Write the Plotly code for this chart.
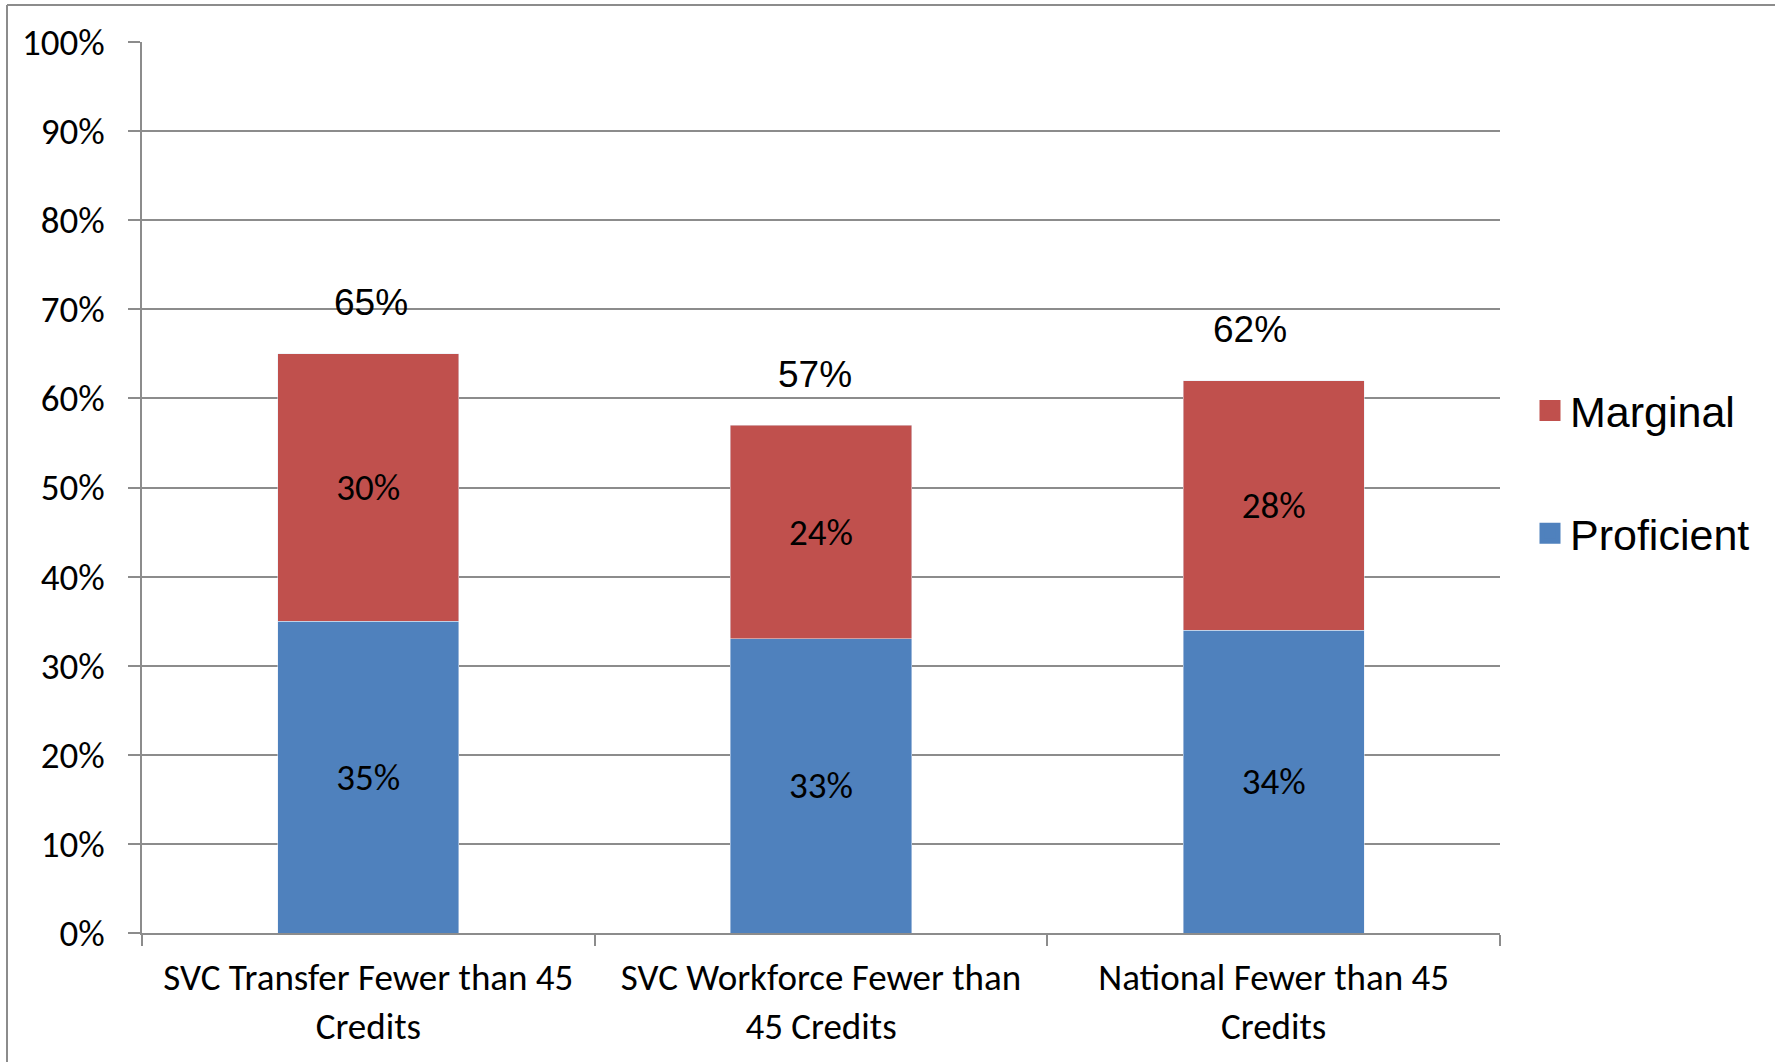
import plotly.graph_objects as go

categories = ["SVC Transfer Fewer than 45<br>Credits",
              "SVC Workforce Fewer than<br>45 Credits",
              "National Fewer than 45<br>Credits"]
proficient = [35, 33, 34]
marginal = [30, 24, 28]
totals = [65, 57, 62]
y_ticks = [0, 10, 20, 30, 40, 50, 60, 70, 80, 90, 100]

BLUE = "#4F81BD"
RED = "#C0504D"
GRID = "#8C8C8C"
CAL = "Carlito, Calibri, Lato, sans-serif"
ARIAL = "Liberation Sans, Arial, sans-serif"
FS = 37

W, H = 1775, 1062
ML, MR, MT, MB = 142, 275, 42, 129
PW, PH = W - ML - MR, H - MT - MB

fig = go.Figure()
fig.add_trace(go.Bar(
    name="Proficient", x=categories, y=proficient, marker_color=BLUE,
    text=[f"{v}%" for v in proficient], textposition="inside",
    insidetextanchor="middle", textangle=0, constraintext="none",
    textfont=dict(family=CAL, size=FS, color="black"),
    showlegend=False, width=0.4))
fig.add_trace(go.Bar(
    name="Marginal", x=categories, y=marginal, marker_color=RED,
    text=[f"{v}%" for v in marginal], textposition="inside",
    insidetextanchor="middle", textangle=0, constraintext="none",
    textfont=dict(family=CAL, size=FS, color="black"),
    showlegend=False, width=0.4))

# legend entries (square keys like the original)
for name, col, rank in [("Marginal", RED, 1), ("Proficient", BLUE, 2)]:
    fig.add_trace(go.Scatter(
        name=name, x=[None], y=[None], mode="markers",
        marker=dict(symbol="square", size=16, color=col,
                    line=dict(color=col, width=5)),
        legendgroup=name, legendrank=rank, hoverinfo="skip"))

label_xshift = [3, -6, -24]
for c, t, dx in zip(categories, totals, label_xshift):
    fig.add_annotation(x=c, y=t, text=f"{t}%", showarrow=False,
                       yanchor="middle", yshift=51, xshift=dx,
                       font=dict(family=ARIAL, size=37, color="black"))

# outer chart border (left and top edges visible)
bx = (7 - ML) / PW
by = (H - MB - 5) / PH
fig.add_shape(type="line", xref="paper", yref="paper", x0=bx, x1=bx,
              y0=by, y1=-0.3, line=dict(color=GRID, width=2))
fig.add_shape(type="line", xref="paper", yref="paper", x0=bx, x1=1.3,
              y0=by, y1=by, line=dict(color=GRID, width=2))

fig.update_layout(
    width=W, height=H,
    margin=dict(l=ML, r=MR, t=MT, b=MB),
    barmode="stack",
    plot_bgcolor="white", paper_bgcolor="white",
    font=dict(family=CAL, size=FS, color="black"),
    legend=dict(x=(1530 - ML) / PW, xanchor="left",
                y=(H - MB - 472) / PH, yanchor="middle",
                traceorder="grouped", tracegroupgap=64,
                font=dict(family=ARIAL, size=43, color="black")),
)
fig.update_xaxes(showline=True, linecolor=GRID, linewidth=2,
                 ticks="outside", tickson="boundaries", ticklen=11,
                 tickcolor=GRID, tickwidth=2, showgrid=False,
                 ticklabelstandoff=11,
                 tickfont=dict(family=CAL, size=FS, color="black"))
fig.update_yaxes(range=[0, 100], tickmode="array", tickvals=y_ticks,
                 ticktext=[f"{v}%" for v in y_ticks],
                 showline=True, linecolor=GRID, linewidth=2,
                 showgrid=True, gridcolor=GRID, gridwidth=2,
                 zeroline=False,
                 ticks="outside", ticklen=12, tickcolor=GRID, tickwidth=2,
                 ticklabelstandoff=16,
                 tickfont=dict(family=CAL, size=FS, color="black"))

fig.write_html("out.html", config={"displayModeBar": False},
               post_script="document.body.style.margin='0';")
